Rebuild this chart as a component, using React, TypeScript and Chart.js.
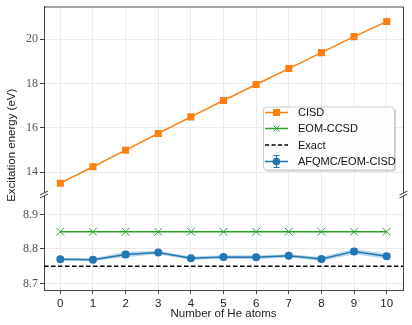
import React, { useEffect, useRef } from "react";
import { Chart, registerables } from "chart.js";
Chart.register(...registerables);

const atoms = [0, 1, 2, 3, 4, 5, 6, 7, 8, 9, 10];
const cisd = [13.51, 14.25, 15.0, 15.75, 16.5, 17.24, 17.96, 18.68, 19.4, 20.12, 20.8];
const eomccsd = [8.85, 8.85, 8.85, 8.85, 8.85, 8.85, 8.85, 8.85, 8.85, 8.85, 8.85];
const exactValue = 8.75;
const afqmc = [8.77, 8.769, 8.784, 8.79, 8.773, 8.777, 8.776, 8.78, 8.771, 8.793, 8.779];
const afqmcErr = [0.004, 0.004, 0.008, 0.005, 0.005, 0.005, 0.006, 0.005, 0.006, 0.008, 0.007];
const topTicks = [14, 16, 18, 20];
const bottomTicks = [8.7, 8.8, 8.9];
const xRange = [-0.5, 10.5];
const topRange = [13.0, 21.48];
const bottomRange = [8.681, 8.958];
const seriesNames = ["CISD", "EOM-CCSD", "Exact", "AFQMC/EOM-CISD"];

const ORANGE = "#ff7f0e";
const GREEN = "#2ca02c";
const BLUE = "#1f77b4";
const SPINE = "#444444";
const GRID = "#ebebeb";
const SANS = "'Liberation Sans', Arial, sans-serif";
const SERIF = "'Liberation Serif', 'Times New Roman', serif";

const decorPlugin = {
  id: "decor",
  beforeDatasetsDraw(chart: any) {
    const ctx = chart.ctx;
    const xs = chart.scales.x;
    const ys = chart.scales.y2;
    ctx.save();
    ctx.strokeStyle = BLUE;
    ctx.lineWidth = 1.3;
    afqmc.forEach((v, i) => {
      const px = xs.getPixelForValue(atoms[i]);
      const y1 = ys.getPixelForValue(v - afqmcErr[i]);
      const y2 = ys.getPixelForValue(v + afqmcErr[i]);
      ctx.beginPath();
      ctx.moveTo(px, y1);
      ctx.lineTo(px, y2);
      ctx.moveTo(px - 3, y1);
      ctx.lineTo(px + 3, y1);
      ctx.moveTo(px - 3, y2);
      ctx.lineTo(px + 3, y2);
      ctx.stroke();
    });
    ctx.restore();
  },
  afterDraw(chart: any) {
    const ctx = chart.ctx;
    const ca = chart.chartArea;
    const ys = chart.scales.y2;
    const breakY = ys.top;
    ctx.save();
    // top & right spines
    ctx.strokeStyle = SPINE;
    ctx.lineWidth = 1;
    ctx.beginPath();
    ctx.moveTo(ca.left, ca.top + 0.5);
    ctx.lineTo(ca.right + 0.5, ca.top + 0.5);
    ctx.lineTo(ca.right + 0.5, ca.bottom);
    ctx.stroke();
    // break marks
    [ca.left, ca.right + 0.5].forEach((bx) => {
      ctx.fillStyle = "#ffffff";
      ctx.beginPath();
      ctx.moveTo(bx - 4, breakY + 3.5);
      ctx.lineTo(bx + 4, breakY - 0.5);
      ctx.lineTo(bx + 4, breakY - 3.5);
      ctx.lineTo(bx - 4, breakY + 0.5);
      ctx.closePath();
      ctx.fill();
      ctx.beginPath();
      for (const d of [-1.5, 1.5]) {
        ctx.moveTo(bx - 4, breakY + d + 2);
        ctx.lineTo(bx + 4, breakY + d - 2);
      }
      ctx.stroke();
    });
    // y title
    ctx.fillStyle = "#222";
    ctx.font = `11.5px ${SANS}`;
    ctx.textAlign = "center";
    ctx.textBaseline = "middle";
    ctx.translate(12, (ca.top + ca.bottom) / 2 - 3);
    ctx.rotate(-Math.PI / 2);
    ctx.fillText("Excitation energy (eV)", 0, 0);
    ctx.restore();

    // legend
    ctx.save();
    const bx = ca.right - 140, by = ca.top + 100, bw = 131, bh = 63;
    ctx.fillStyle = "rgba(0,0,0,0.18)";
    ctx.beginPath();
    ctx.roundRect(bx + 2, by + 2, bw, bh, 3);
    ctx.fill();
    ctx.fillStyle = "rgba(255,255,255,0.95)";
    ctx.strokeStyle = "#cccccc";
    ctx.lineWidth = 1;
    ctx.beginPath();
    ctx.roundRect(bx + 0.5, by + 0.5, bw, bh, 3);
    ctx.fill();
    ctx.stroke();
    const hx0 = bx + 2, hx1 = bx + 25, hc = (hx0 + hx1) / 2;
    const rowY = [by + 6, by + 22, by + 38.5, by + 55];
    ctx.font = `11px ${SANS}`;
    ctx.textBaseline = "middle";
    ctx.textAlign = "left";
    rowY.forEach((ry, i) => {
      ctx.lineWidth = 1.5;
      ctx.setLineDash(i === 2 ? [4, 2.5] : []);
      ctx.strokeStyle = [ORANGE, GREEN, "#000", BLUE][i];
      ctx.beginPath();
      ctx.moveTo(hx0, ry);
      ctx.lineTo(hx1, ry);
      ctx.stroke();
      ctx.setLineDash([]);
      if (i === 0) {
        ctx.fillStyle = ORANGE;
        ctx.fillRect(hc - 3.5, ry - 3.5, 7, 7);
      } else if (i === 1) {
        ctx.lineWidth = 1;
        ctx.beginPath();
        ctx.moveTo(hc - 3, ry - 3);
        ctx.lineTo(hc + 3, ry + 3);
        ctx.moveTo(hc - 3, ry + 3);
        ctx.lineTo(hc + 3, ry - 3);
        ctx.stroke();
      } else if (i === 3) {
        ctx.lineWidth = 1.2;
        ctx.beginPath();
        ctx.moveTo(hc, ry - 6);
        ctx.lineTo(hc, ry + 6);
        ctx.moveTo(hc - 3, ry - 6);
        ctx.lineTo(hc + 3, ry - 6);
        ctx.moveTo(hc - 3, ry + 6);
        ctx.lineTo(hc + 3, ry + 6);
        ctx.stroke();
        ctx.fillStyle = BLUE;
        ctx.beginPath();
        ctx.arc(hc, ry, 3.8, 0, Math.PI * 2);
        ctx.fill();
      }
      ctx.fillStyle = "#111";
      ctx.fillText(seriesNames[i], bx + 35, ry + 0.5);
    });
    ctx.restore();
  },
};

const fitY = (s: any) => {
  s.width = 44;
  s.paddingTop = 0;
  s.paddingBottom = 0;
};

export default function App() {
  const ref = useRef<HTMLCanvasElement | null>(null);
  useEffect(() => {
    if (!ref.current) return;
    const chart = new Chart(ref.current, {
      type: "line",
      data: {
        datasets: [
          {
            label: seriesNames[3],
            data: atoms.map((x, i) => ({ x, y: afqmc[i] })),
            yAxisID: "y2",
            borderColor: BLUE,
            backgroundColor: BLUE,
            borderWidth: 1.5,
            pointRadius: 4,
            pointBorderWidth: 0,
            order: 0,
          },
          {
            label: "lower",
            data: atoms.map((x, i) => ({ x, y: afqmc[i] - afqmcErr[i] })),
            yAxisID: "y2",
            borderWidth: 0,
            pointRadius: 0,
            fill: false,
            order: 5,
          },
          {
            label: "upper",
            data: atoms.map((x, i) => ({ x, y: afqmc[i] + afqmcErr[i] })),
            yAxisID: "y2",
            borderWidth: 0,
            pointRadius: 0,
            fill: "-1",
            backgroundColor: "rgba(31,119,180,0.3)",
            order: 4,
          },
          {
            label: seriesNames[0],
            data: atoms.map((x, i) => ({ x, y: cisd[i] })),
            yAxisID: "y",
            borderColor: ORANGE,
            backgroundColor: ORANGE,
            borderWidth: 1.5,
            pointStyle: "rect",
            pointRadius: 5,
            pointBorderWidth: 0,
            order: 1,
          },
          {
            label: seriesNames[1],
            data: atoms.map((x, i) => ({ x, y: eomccsd[i] })),
            yAxisID: "y2",
            borderColor: GREEN,
            backgroundColor: GREEN,
            borderWidth: 1.5,
            pointStyle: "crossRot",
            pointRadius: 5.5,
            pointBorderWidth: 1,
            order: 2,
          },
          {
            label: seriesNames[2],
            data: xRange.map((x) => ({ x, y: exactValue })),
            yAxisID: "y2",
            borderColor: "#000000",
            borderWidth: 1.5,
            borderDash: [4.5, 2.5],
            pointRadius: 0,
            order: 3,
          },
        ],
      },
      options: {
        responsive: false,
        animation: false,
        events: [],
        layout: { padding: { left: 0, right: 9, top: 5, bottom: 0 } },
        plugins: { legend: { display: false }, tooltip: { enabled: false } },
        scales: {
          x: {
            type: "linear",
            min: xRange[0],
            max: xRange[1],
            afterBuildTicks: (s: any) => {
              s.ticks = atoms.map((v) => ({ value: v }));
            },
            afterFit: (s: any) => {
              s.height = 35;
              s.paddingLeft = 0;
              s.paddingRight = 0;
            },
            ticks: {
              font: { family: SANS, size: 11.5 },
              color: "#222",
              padding: 3,
              maxRotation: 0,
              callback: (v: any) => String(v),
            },
            grid: { color: GRID, tickColor: SPINE, tickLength: 4 },
            border: { color: SPINE, width: 1 },
            title: {
              display: true,
              text: "Number of He atoms",
              font: { family: SANS, size: 11.5 },
              color: "#222",
              padding: { top: 0, bottom: 4 },
            },
          },
          y2: {
            type: "linear",
            position: "left",
            stack: "v",
            stackWeight: 96,
            min: bottomRange[0],
            max: bottomRange[1],
            afterBuildTicks: (s: any) => {
              s.ticks = bottomTicks.map((v) => ({ value: v }));
            },
            afterFit: fitY,
            ticks: {
              font: { family: SERIF, size: 12 },
              color: "#555",
              padding: 2,
              callback: (v: any) => Number(v).toFixed(1),
            },
            grid: { color: GRID, tickColor: SPINE, tickLength: 4 },
            border: { color: SPINE, width: 1 },
          },
          y: {
            type: "linear",
            position: "left",
            stack: "v",
            stackWeight: 189,
            min: topRange[0],
            max: topRange[1],
            afterBuildTicks: (s: any) => {
              s.ticks = topTicks.map((v) => ({ value: v }));
            },
            afterFit: fitY,
            ticks: {
              font: { family: SERIF, size: 12 },
              color: "#555",
              padding: 2,
              callback: (v: any) => String(v),
            },
            grid: { color: GRID, tickColor: SPINE, tickLength: 4 },
            border: { color: SPINE, width: 1 },
          },
        },
      },
      plugins: [decorPlugin],
    } as any);
    return () => chart.destroy();
  }, []);
  return (
    <div style={{ position: "fixed", left: 0, top: 0, width: 412, height: 325, background: "#fff" }}>
      <canvas ref={ref} width={412} height={325} />
    </div>
  );
}
